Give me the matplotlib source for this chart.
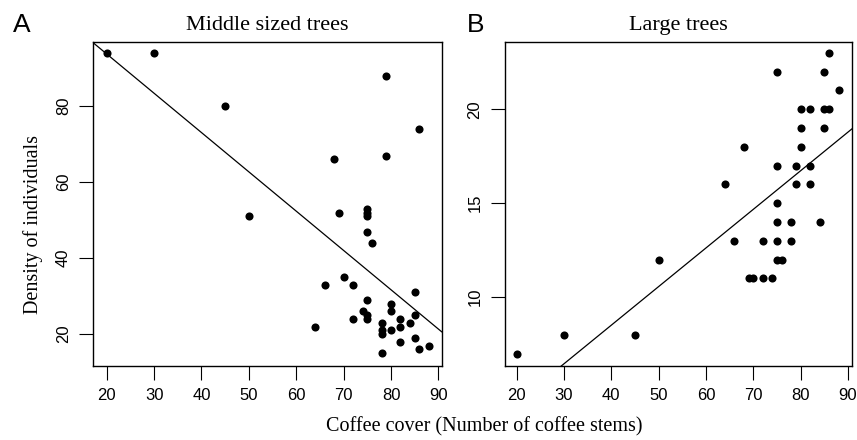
import matplotlib
matplotlib.use("Agg")
import matplotlib.pyplot as plt
import numpy as np

# Panel A: middle sized trees
cover_mid = [20, 30, 45, 79, 86, 68, 79, 50, 69, 75, 75, 75, 75, 76, 70, 66, 72,
             85, 75, 80, 80, 74, 75, 75, 72, 85, 82, 84, 78, 82, 64, 78, 78, 80,
             82, 85, 86, 88, 78]
dens_mid = [94, 94, 80, 88, 74, 66, 67, 51, 52, 53, 52, 51, 47, 44, 35, 33, 33,
            31, 29, 28, 26, 26, 25, 24, 24, 25, 24, 23, 23, 22, 22, 21, 20, 21,
            18, 19, 16, 17, 15]
fit_mid = (114.4, -1.034)  # intercept, slope

# Panel B: large trees
cover_large = [86, 75, 85, 88, 80, 82, 85, 86, 80, 85, 68, 80, 75, 79, 82, 64, 79,
               82, 75, 75, 78, 84, 66, 72, 75, 78, 50, 75, 76, 69, 70, 72, 74, 30,
               45, 20]
dens_large = [23, 22, 22, 21, 20, 20, 20, 20, 19, 19, 18, 18, 17, 17, 17, 16, 16,
              16, 15, 14, 14, 14, 13, 13, 13, 13, 12, 12, 12, 11, 11, 11, 11, 8,
              8, 7]
fit_large = (0.30, 0.2054)

serif = "Liberation Serif"
sans = "Liberation Sans"

fig = plt.figure(figsize=(8.57, 4.4), dpi=100)
axA = fig.add_axes([0.1089, 0.1689, 0.4065, 0.735])
axB = fig.add_axes([0.5889, 0.1689, 0.4053, 0.735])

def draw(ax, xs, ys, fit, xlim, ylim, yticks, title):
    ax.scatter(xs, ys, s=34, color="black", zorder=3, linewidths=0)
    xx = np.array(xlim)
    ax.plot(xx, fit[0] + fit[1] * xx, color="black", lw=0.9)
    ax.set_xlim(*xlim)
    ax.set_ylim(*ylim)
    ax.set_xticks(range(20, 91, 10))
    ax.set_yticks(yticks)
    ax.tick_params(direction="out", length=10, width=0.8, labelsize=12, pad=6)
    for lab in ax.get_xticklabels() + ax.get_yticklabels():
        lab.set_fontfamily(sans)
    for lab in ax.get_yticklabels():
        lab.set_rotation(90)
        lab.set_va("center")
    for sp in ax.spines.values():
        sp.set_linewidth(1.0)
    ax.set_title(title, family=serif, fontsize=16, pad=9)

draw(axA, cover_mid, dens_mid, fit_mid, (17.17, 90.7), (11.7, 96.8),
     [20, 40, 60, 80], "Middle sized trees")
draw(axB, cover_large, dens_large, fit_large, (17.47, 90.84), (6.36, 23.56),
     [10, 15, 20], "Large trees")

fig.text(22 / 857, 1 - 25 / 440, "A", family=sans, fontsize=19, ha="center", va="center")
fig.text(476 / 857, 1 - 25 / 440, "B", family=sans, fontsize=19, ha="center", va="center")
fig.text(33 / 857, 1 - 225 / 440, "Density of individuals", family=serif, fontsize=14.5,
         rotation=90, ha="center", va="center")
fig.text(484 / 857, 1 - 427 / 440, "Coffee cover (Number of coffee stems)", family=serif,
         fontsize=14.5, ha="center", va="center")

fig.savefig("out.png", dpi=100)
